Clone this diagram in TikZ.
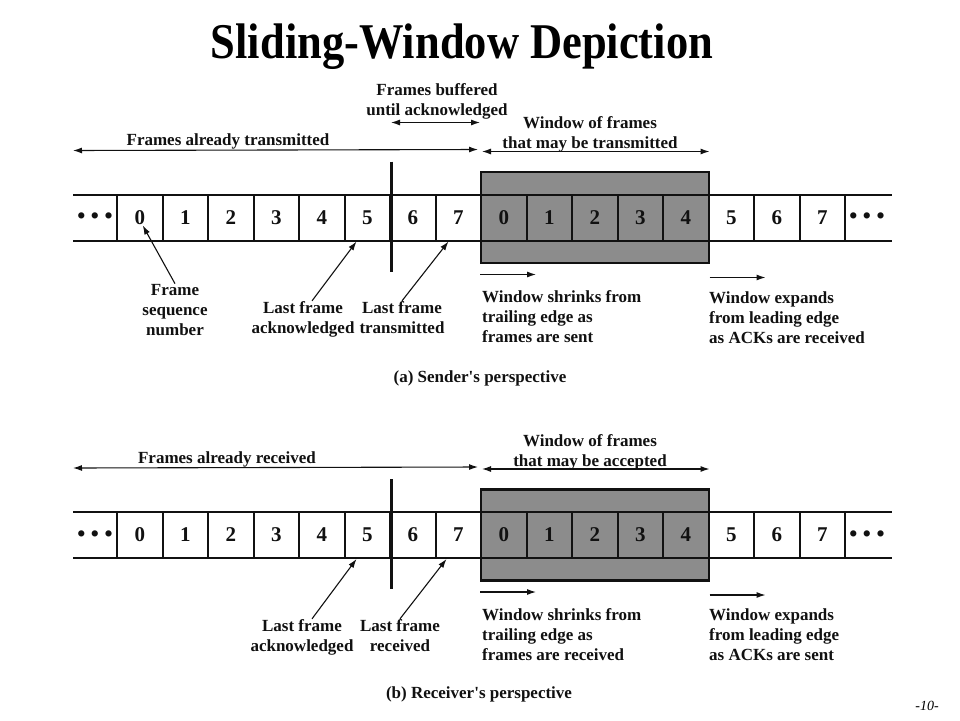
\documentclass[tikz,border=0pt]{standalone}
\usepackage{graphicx}
\usepackage{fontspec}
\setmainfont{Liberation Serif}
\usepackage{tikz}
\usetikzlibrary{calc,arrows.meta,positioning}
\definecolor{ink}{HTML}{111111}
\definecolor{winfill}{HTML}{8C8C8C}
\tikzset{
  cell/.style={draw=ink, line width=2pt, minimum width=45.5pt, minimum height=46pt, inner sep=0pt, font=\fontsize{21}{21}\selectfont\bfseries, text=ink},
  win/.style={draw=ink, line width=2.6pt, fill=winfill},
  rail/.style={draw=ink, line width=2pt},
  edge/.style={draw=ink, line width=3pt},
  span/.style={draw=ink, line width=1.1pt, {Latex[length=9pt,width=6pt]}-{Latex[length=9pt,width=6pt]}},
  push/.style={draw=ink, line width=1.1pt, -{Latex[length=9pt,width=6pt]}},
  lab/.style={text=ink, font=\fontsize{17}{20}\selectfont\bfseries, align=center, inner sep=0pt, anchor=base},
  labl/.style={lab, align=left, anchor=base west},
  dots/.style={text=ink, font=\fontsize{23}{23}\selectfont\bfseries, inner sep=0pt},
}

\begin{document}
\begin{tikzpicture}[x=1pt, y=-1pt]
\useasboundingbox[fill=white] (0,0) rectangle (960,720);

\node[font=\fontsize{50}{50}\selectfont\bfseries, anchor=base] (title) at (462,58) {\scalebox{0.89}[1]{Sliding-Window Depiction}};

% the two frame strips
\foreach \p/\y in {a/217.5, b/535}{
  \draw[win] (481,\y-45.5) rectangle (709,\y+45.5);
  \draw[rail] (73,\y-23) -- (892,\y-23) (73,\y+23) -- (892,\y+23);
  \foreach \i in {0,...,15}{
    \pgfmathtruncatemacro\n{mod(\i,8)}
    \pgfmathtruncatemacro\inwin{(\i>7)*(\i<13)}
    \ifnum\inwin=1 \def\cf{winfill}\else\def\cf{white}\fi
    \node[cell, fill=\cf] (\p-c\i) at ({139.75+45.5*\i},\y) {\n};
  }
  \node[dots] (\p-dl) at (95,\y+1) {\textbullet\hspace{5.5pt}\textbullet\hspace{5.5pt}\textbullet};
  \node[dots] (\p-dr) at (867,\y+1) {\textbullet\hspace{5.5pt}\textbullet\hspace{5.5pt}\textbullet};
  \draw[edge] ([yshift=32pt]\p-c5.north east) -- ([yshift=-30pt]\p-c5.south east);
  \coordinate (\p-far) at (73,\y-67);
  \draw[span, shorten >=2pt] (\p-far) -- ([yshift=44pt]\p-c8.north west);
  \draw[span, shorten <=2pt] ([yshift=42pt]\p-c8.north west) -- ([yshift=42pt]\p-c12.north east);
  \draw[push] ([yshift=-33pt]\p-c8.south west) -- ++(56,0);
  \draw[push] ([yshift=-36pt]\p-c12.south east) -- ++(56,0);
}

% (a) sender
\node[lab] (a-done) at (228,145) {Frames already transmitted};
\node[lab] (a-buf) at (437,115) {Frames buffered\\until acknowledged};
\draw[span] ([yshift=71pt]a-c5.north east) -- ([yshift=71pt]a-c8.north west);
\node[lab] (a-may) at (590,148) {Window of frames\\that may be transmitted};
\node[labl] (a-shr) at (482,342) {Window shrinks from\\trailing edge as\\frames are sent};
\node[labl] (a-exp) at (709,343) {Window expands\\from leading edge\\as ACKs are received};
\node[lab] (a-seq) at (175,335) {Frame\\sequence\\number};
\node[lab] (a-ack) at (303,333) {Last frame\\acknowledged};
\node[lab] (a-last) at (402,333) {Last frame\\transmitted};
\draw[push] (a-seq.north) -- ([xshift=3pt,yshift=-8pt]a-c0.center);
\draw[push] ([xshift=9pt]a-ack.north) -- ([xshift=13pt]a-c5.south west);
\draw[push] (a-last.north) -- ([xshift=14pt]a-c7.south west);
\node[lab] (a-cap) at (480,382) {(a) Sender\textquotesingle s perspective};

% (b) receiver
\node[lab] (b-done) at (227,463) {Frames already received};
\node[lab] (b-may) at (590,466) {Window of frames\\that may be accepted};
\node[labl] (b-shr) at (482,660) {Window shrinks from\\trailing edge as\\frames are received};
\node[labl] (b-exp) at (709,660) {Window expands\\from leading edge\\as ACKs are sent};
\node[lab] (b-ack) at (302,651) {Last frame\\acknowledged};
\node[lab] (b-last) at (400,651) {Last frame\\received};
\draw[push] ([xshift=10pt]b-ack.north) -- ([xshift=13pt]b-c5.south west);
\draw[push] (b-last.north) -- ([xshift=12pt]b-c7.south west);
\node[lab] (b-cap) at (479,698) {(b) Receiver\textquotesingle s perspective};

\node[font=\fontsize{14}{14}\selectfont\itshape, anchor=base] (page) at (927,710) {-10-};
\end{tikzpicture}
\end{document}
